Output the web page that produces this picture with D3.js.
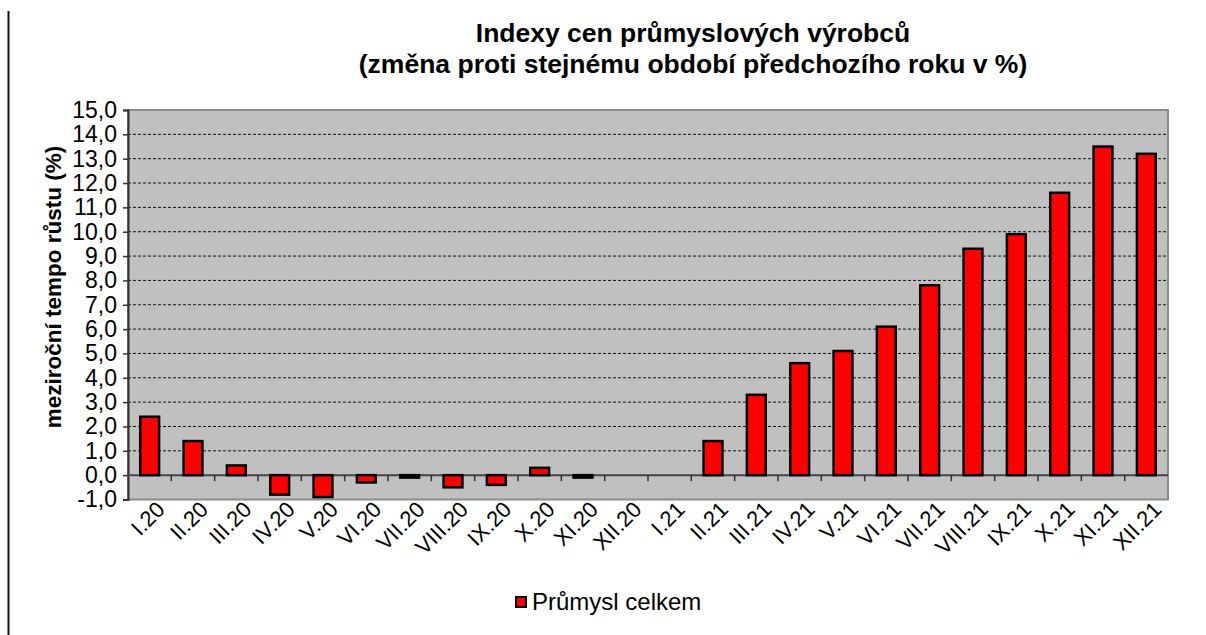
<!DOCTYPE html>
<html>
<head>
<meta charset="utf-8">
<script src="https://cdn.jsdelivr.net/npm/d3@7"></script>
<style>
  body { margin: 0; background: #fff; }
  svg text { font-family: "Liberation Sans", Arial, sans-serif; }
</style>
</head>
<body>
<svg id="chart"></svg>
<script>
let months = ["I.20", "II.20", "III.20", "IV.20", "V.20", "VI.20", "VII.20", "VIII.20", "IX.20", "X.20", "XI.20", "XII.20",
              "I.21", "II.21", "III.21", "IV.21", "V.21", "VI.21", "VII.21", "VIII.21", "IX.21", "X.21", "XI.21", "XII.21"];
let values = [2.4, 1.4, 0.4, -0.8, -0.9, -0.3, -0.1, -0.5, -0.4, 0.3, -0.1, null,
              null, 1.4, 3.3, 4.6, 5.1, 6.1, 7.8, 9.3, 9.9, 11.6, 13.5, 13.2];
let yTicks = d3.range(-1, 16, 1);

let titleLines = ["Indexy cen průmyslových výrobců", "(změna proti stejnému období předchozího roku v %)"];
let yTitle = "meziroční tempo růstu (%)";
let seriesName = "Průmysl celkem";

let w = 1206, h = 635;
let plotL = 128, plotR = 1168, plotT = 110, plotB = 499.5;

let svg = d3.select("#chart").attr("width", w).attr("height", h);

// left border line of the original frame
svg.append("line")
   .attr("x1", 8.5).attr("x2", 8.5).attr("y1", 11).attr("y2", h)
   .attr("stroke", "#111").attr("stroke-width", 2);

let x = d3.scaleBand().domain(months).range([plotL, plotR]).padding(0);
let y = d3.scaleLinear().domain([-1, 15]).range([plotB, plotT]);

let fmt = (d) => d3.format(".1f")(d).replace(".", ",").replace("\u2212", "-");

// plot background
svg.append("rect")
   .attr("x", plotL).attr("y", plotT)
   .attr("width", plotR - plotL).attr("height", plotB - plotT)
   .attr("fill", "#c0c0c0")
   .attr("stroke", "#8c8c8c").attr("stroke-width", 2);

// dashed gridlines
svg.append("g").selectAll("line")
   .data(yTicks.filter(d => d > 0 && d < 15))
   .enter().append("line")
   .attr("x1", plotL).attr("x2", plotR)
   .attr("y1", d => y(d)).attr("y2", d => y(d))
   .attr("stroke", "#111").attr("stroke-width", 1)
   .attr("stroke-dasharray", "3,2");

// y axis
let yAxis = svg.append("g")
   .attr("transform", `translate(${plotL},0)`)
   .call(d3.axisLeft(y).tickValues(yTicks).tickFormat(fmt).tickSize(5).tickPadding(6));
yAxis.select(".domain").attr("stroke", "#333").attr("stroke-width", 2);
yAxis.selectAll(".tick line").attr("stroke", "#333").attr("stroke-width", 1.5);
yAxis.selectAll(".tick text")
   .attr("font-size", "23px").attr("fill", "#000")
   .style("font-family", "'Liberation Sans', Arial, sans-serif");

// zero line with ticks at band boundaries
let zeroY = y(0);
svg.append("line")
   .attr("x1", plotL).attr("x2", plotR).attr("y1", zeroY).attr("y2", zeroY)
   .attr("stroke", "#444").attr("stroke-width", 2);
svg.append("g").selectAll("line")
   .data(months.slice(1))
   .enter().append("line")
   .attr("x1", d => x(d)).attr("x2", d => x(d))
   .attr("y1", zeroY).attr("y2", zeroY + 6)
   .attr("stroke", "#333").attr("stroke-width", 1.5);

// bars
let barW = x.bandwidth() / 2.3;
svg.append("g").selectAll("rect")
   .data(months.map((m, i) => ({ m: m, v: values[i] })).filter(d => d.v !== null))
   .enter().append("rect")
   .attr("x", d => x(d.m) + (x.bandwidth() - barW) / 2)
   .attr("y", d => y(Math.max(0, d.v)))
   .attr("width", barW)
   .attr("height", d => Math.abs(y(d.v) - y(0)))
   .attr("fill", "#ff0000")
   .attr("stroke", "#000").attr("stroke-width", 2.5);

// x labels, rotated
svg.append("g").selectAll("text")
   .data(months)
   .enter().append("text")
   .attr("transform", d => `translate(${x(d) + x.bandwidth() / 2 + 11},${plotB + 6}) rotate(-45)`)
   .attr("text-anchor", "end")
   .attr("dy", "0.35em")
   .attr("font-size", "22px")
   .text(d => d);

// titles
svg.append("g").selectAll("text")
   .data(titleLines)
   .enter().append("text")
   .attr("x", 693).attr("y", (d, i) => 42 + i * 31)
   .attr("text-anchor", "middle")
   .attr("font-size", "26.5px").attr("font-weight", "bold")
   .text(d => d);

svg.append("text")
   .attr("transform", `translate(61,287) rotate(-90)`)
   .attr("text-anchor", "middle")
   .attr("font-size", "22.5px").attr("font-weight", "bold")
   .text(yTitle);

// legend
svg.append("rect")
   .attr("x", 516).attr("y", 597).attr("width", 10).attr("height", 10)
   .attr("fill", "#ff0000").attr("stroke", "#000").attr("stroke-width", 2);
svg.append("text")
   .attr("x", 532).attr("y", 610)
   .attr("font-size", "24px")
   .text(seriesName);
</script>
</body>
</html>
